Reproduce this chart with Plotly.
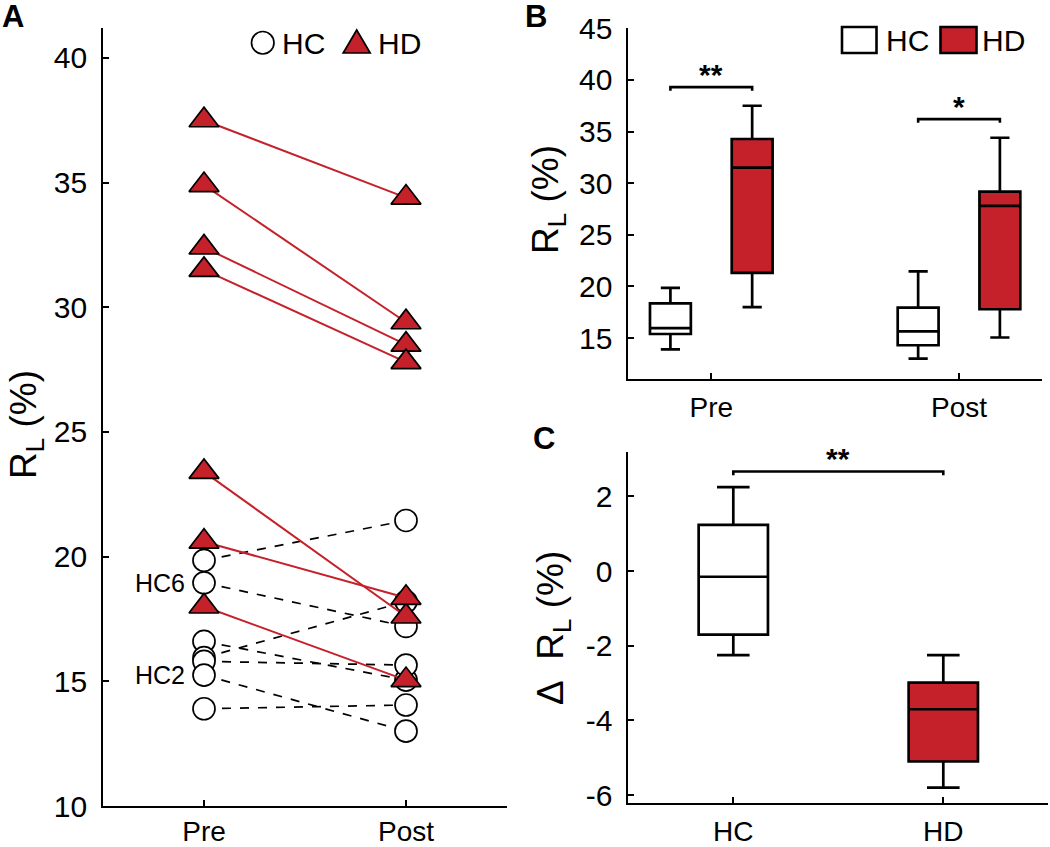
import math
import plotly.graph_objects as go

# ---------------- data ----------------
sessions = ["Pre", "Post"]
groups = ["HC", "HD"]
hc_pre = [19.85, 18.95, 16.6, 15.95, 15.8, 15.25, 13.9]
hc_post = [21.45, 17.2, 15.05, 18.2, 15.65, 13.0, 14.05]
hd_pre = [37.5, 34.9, 32.4, 31.5, 23.4, 20.6, 18.0]
hd_post = [34.4, 29.4, 28.5, 27.8, 17.6, 18.35, 15.05]
hc_labels = ["", "HC6", "", "", "", "HC2", ""]
stars_b = ["**", "*"]
stars_c = "**"
ticks_a = [10, 15, 20, 25, 30, 35, 40]
ticks_b = [15, 20, 25, 30, 35, 40, 45]
ticks_c = [-6, -4, -2, 0, 2]

delta_hc = [b - a for a, b in zip(hc_pre, hc_post)]
delta_hd = [b - a for a, b in zip(hd_pre, hd_post)]

# ---------------- style ----------------
W, H = 1050, 847
RED = "#C5212A"
FONT = "Liberation Sans, Arial, Helvetica, sans-serif"
TICKFONT = dict(family=FONT, size=30, color="black")
XTICKFONT = dict(family=FONT, size=28, color="black")


def px_x(p):
    return p / W


def px_y(p):
    return 1 - p / H


def mprct(vals, p):
    """MATLAB-style percentile (used by boxplot)."""
    x = sorted(vals)
    n = len(x)
    pos = n * p / 100 + 0.5
    if pos <= 1:
        return x[0]
    if pos >= n:
        return x[-1]
    lo = int(math.floor(pos))
    f = pos - lo
    return x[lo - 1] + f * (x[lo] - x[lo - 1])


def box_stats(vals):
    q1, med, q3 = mprct(vals, 25), mprct(vals, 50), mprct(vals, 75)
    iqr = q3 - q1
    lo = min(v for v in vals if v >= q1 - 1.5 * iqr)
    hi = max(v for v in vals if v <= q3 + 1.5 * iqr)
    return dict(q1=q1, median=med, q3=q3, lowerfence=lo, upperfence=hi)


fig = go.Figure()

# ---------------- Panel A ----------------
xpos = [1, 2]
for a, b in zip(hc_pre, hc_post):
    fig.add_trace(go.Scatter(x=xpos, y=[a, b], mode="lines", xaxis="x", yaxis="y",
                             line=dict(color="black", width=1.7, dash="dash"),
                             showlegend=False, hoverinfo="skip"))
fig.add_trace(go.Scatter(x=[1] * len(hc_pre) + [2] * len(hc_post), y=hc_pre + hc_post,
                         mode="markers", xaxis="x", yaxis="y", name="HC",
                         marker=dict(symbol="circle", size=22, color="white",
                                     line=dict(color="black", width=1.7)),
                         showlegend=False))
for a, b in zip(hd_pre, hd_post):
    fig.add_trace(go.Scatter(x=xpos, y=[a, b], mode="lines", xaxis="x", yaxis="y",
                             line=dict(color=RED, width=2),
                             showlegend=False, hoverinfo="skip"))
fig.add_trace(go.Scatter(x=[1] * len(hd_pre) + [2] * len(hd_post), y=hd_pre + hd_post,
                         mode="markers", xaxis="x", yaxis="y", name="HD",
                         marker=dict(symbol="triangle-up", size=26, color=RED,
                                     line=dict(color="black", width=1.7)),
                         showlegend=False))

annotations = []
for lab, v in zip(hc_labels, hc_pre):
    if lab:
        annotations.append(dict(x=0.915, y=v, xref="x", yref="y", text=lab, showarrow=False,
                                xanchor="right", yanchor="middle",
                                font=dict(family=FONT, size=25, color="black")))

# ---------------- Panel B ----------------
b_data = {"HC": (hc_pre, hc_post), "HD": (hd_pre, hd_post)}
for g, fill in zip(groups, ["white", RED]):
    stats = [box_stats(v) for v in b_data[g]]
    fig.add_trace(go.Box(
        x=xpos, xaxis="x2", yaxis="y2", name=g, offsetgroup=g,
        q1=[s["q1"] for s in stats], median=[s["median"] for s in stats],
        q3=[s["q3"] for s in stats], lowerfence=[s["lowerfence"] for s in stats],
        upperfence=[s["upperfence"] for s in stats],
        fillcolor=fill, line=dict(color="black", width=2.7), whiskerwidth=0.47,
        showlegend=False, boxpoints=False))

# ---------------- Panel C ----------------
for i, (g, fill, d) in enumerate(zip(groups, ["white", RED], [delta_hc, delta_hd])):
    s = box_stats(d)
    fig.add_trace(go.Box(
        x=[i + 1], xaxis="x3", yaxis="y3", name=g, offsetgroup="c",
        q1=[s["q1"]], median=[s["median"]], q3=[s["q3"]],
        lowerfence=[s["lowerfence"]], upperfence=[s["upperfence"]],
        fillcolor=fill, line=dict(color="black", width=2.7), whiskerwidth=0.47,
        showlegend=False, boxpoints=False))

# ---------------- significance brackets ----------------
shapes = []
off = 0.165
STARFONT = dict(family=FONT, size=30, color="black")
for i, (st, a, b) in enumerate(zip(stars_b, [hd_pre, hd_post], [hc_pre, hc_post])):
    top = max(max(a), max(b)) + 1.8
    x0, x1 = xpos[i] - off, xpos[i] + off
    shapes.append(dict(type="path", xref="x2", yref="y2",
                       path=f"M{x0},{top-0.35} L{x0},{top} L{x1},{top} L{x1},{top-0.35}",
                       line=dict(color="black", width=2.6)))
    annotations.append(dict(x=xpos[i], y=top, xref="x2", yref="y2", text=f"<b>{st}</b>",
                            showarrow=False, yanchor="bottom", yshift=-6, font=STARFONT))
topc = max(delta_hc + delta_hd) + 0.42
shapes.append(dict(type="path", xref="x3", yref="y3",
                   path=f"M1,{topc-0.1} L1,{topc} L2,{topc} L2,{topc-0.1}",
                   line=dict(color="black", width=2.6)))
annotations.append(dict(x=1.5, y=topc, xref="x3", yref="y3", text=f"<b>{stars_c}</b>",
                        showarrow=False, yanchor="bottom", yshift=-6, font=STARFONT))

# ---------------- legends (drawn as layout decorations) ----------------
shapes.append(dict(type="circle", xref="paper", yref="paper",
                   x0=px_x(251.5), x1=px_x(274), y0=px_y(54), y1=px_y(31.5),
                   line=dict(color="black", width=1.7), fillcolor="white"))
shapes.append(dict(type="path", xref="paper", yref="paper",
                   path=f"M{px_x(343.2)},{px_y(53)} L{px_x(370.2)},{px_y(53)} L{px_x(356.7)},{px_y(30)} Z",
                   line=dict(color="black", width=1.7), fillcolor=RED))
for txt, x in [("HC", 280), ("HD", 376)]:
    annotations.append(dict(x=px_x(x), y=px_y(43), xref="paper", yref="paper", text=txt,
                            showarrow=False, xanchor="left", yanchor="middle",
                            font=dict(family=FONT, size=30, color="black")))
shapes.append(dict(type="rect", xref="paper", yref="paper",
                   x0=px_x(842), x1=px_x(876.5), y0=px_y(53), y1=px_y(27),
                   line=dict(color="black", width=2.6), fillcolor="white"))
shapes.append(dict(type="rect", xref="paper", yref="paper",
                   x0=px_x(940.5), x1=px_x(976.5), y0=px_y(53), y1=px_y(27),
                   line=dict(color="black", width=2.6), fillcolor=RED))
for txt, x in [("HC", 884), ("HD", 980)]:
    annotations.append(dict(x=px_x(x), y=px_y(41), xref="paper", yref="paper", text=txt,
                            showarrow=False, xanchor="left", yanchor="middle",
                            font=dict(family=FONT, size=30, color="black")))

# ---------------- panel letters & axis titles ----------------
for txt, x, y in [("A", 13, 16), ("B", 536, 17), ("C", 544, 438)]:
    annotations.append(dict(x=px_x(x), y=px_y(y), xref="paper", yref="paper",
                            text=f"<b>{txt}</b>", showarrow=False,
                            xanchor="center", yanchor="middle",
                            font=dict(family=FONT, size=31, color="black")))
for txt, x, y in [("R<sub>L</sub> (%)", 26, 425), ("R<sub>L</sub> (%)", 548, 200),
                  ("Δ&nbsp;&nbsp;R<sub>L</sub> (%)", 553, 628)]:
    annotations.append(dict(x=px_x(x), y=px_y(y), xref="paper", yref="paper",
                            text=txt, showarrow=False, textangle=-90,
                            xanchor="center", yanchor="middle",
                            font=dict(family=FONT, size=37, color="black")))

axis_common = dict(showline=True, linecolor="black", linewidth=1.7, ticks="inside",
                   ticklen=6, tickwidth=1.7, tickcolor="black", showgrid=False,
                   zeroline=False, mirror=False, automargin=False)


def tick_text(vals):
    return [str(v).replace("\u2212", "-") for v in vals]


fig.update_layout(
    width=W, height=H, margin=dict(l=0, r=0, t=0, b=0, pad=0, autoexpand=False),
    paper_bgcolor="white", plot_bgcolor="white",
    boxmode="group", boxgap=0.34, boxgroupgap=0.5,
    showlegend=False,
    xaxis=dict(domain=[px_x(103), px_x(507)], range=[0.5, 2.5], tickvals=xpos,
               ticktext=sessions, anchor="y", ticklabelstandoff=0, tickfont=XTICKFONT,
               **axis_common),
    yaxis=dict(domain=[px_y(806), px_y(28)], range=[10, 41.2],
               tickvals=ticks_a, ticktext=tick_text(ticks_a), anchor="x",
               ticklabelstandoff=8, tickfont=TICKFONT, **axis_common),
    xaxis2=dict(domain=[px_x(628.3), px_x(1042)], range=[0.665, 2.335], tickvals=xpos,
                ticktext=sessions, anchor="y2", ticklabelstandoff=2, tickfont=XTICKFONT,
                **axis_common),
    yaxis2=dict(domain=[px_y(379.3), px_y(28.3)], range=[11, 45],
                tickvals=ticks_b, ticktext=tick_text(ticks_b), anchor="x2",
                ticklabelstandoff=8, tickfont=TICKFONT, **axis_common),
    xaxis3=dict(domain=[px_x(628.3), px_x(1048.3)], range=[0.5, 2.5], tickvals=[1, 2],
                ticktext=groups, anchor="y3", ticklabelstandoff=2, tickfont=XTICKFONT,
                **axis_common),
    yaxis3=dict(domain=[px_y(803.3), px_y(451.7)], range=[-6.22, 3.2],
                tickvals=ticks_c, ticktext=tick_text(ticks_c), anchor="x3",
                ticklabelstandoff=8, tickfont=TICKFONT, **axis_common),
    shapes=shapes, annotations=annotations,
)

fig.write_html("out.html", config={"displayModeBar": False},
               post_script="document.body.style.margin='0';document.body.style.padding='0';")
